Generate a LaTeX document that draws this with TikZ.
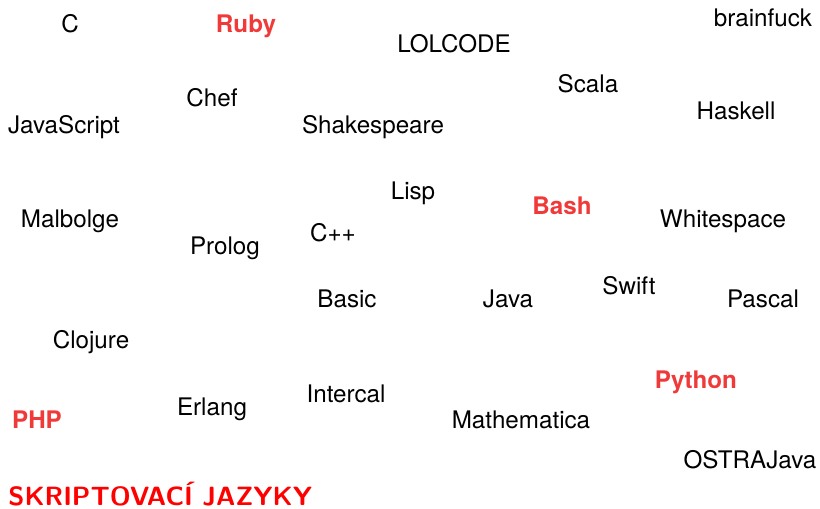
\documentclass[tikz,border=0pt]{standalone}
\usepackage{fontspec}
\setmainfont{TeX Gyre Heros}
\newfontfamily\titlefont{Latin Modern Sans}
\usetikzlibrary{positioning}
\definecolor{hotred}{RGB}{240,58,58}
\definecolor{titlered}{RGB}{255,0,0}

\tikzset{
  lang/.style={text height=1.5ex, text depth=.25ex, inner sep=0pt, font=\fontsize{12.1}{14}\selectfont},
  hot/.style={lang, text=hotred, font=\fontsize{12.1}{14}\selectfont\bfseries},
}

\begin{document}
\begin{tikzpicture}[x=0.5pt, y=-0.5pt]

\useasboundingbox (0,0) rectangle (820,509);

% top row
\node[lang] (c) at (70,26) {C};
\node[hot] (ruby) at (246,26) {Ruby};
\node[lang] (lolcode) at (454,46) {LOLCODE};
\node[lang] (brainfuck) at (763,20) {brainfuck};

\node[lang] (scala) at (588,86) {Scala};
\node[lang] (chef) at (212,100) {Chef};
\node[lang] (haskell) at (736,113) {Haskell};
\node[lang] (javascript) at (64,127) {JavaScript};
\node[lang] (shakespeare) at (373,127) {Shakespeare};

% middle
\node[lang] (lisp) at (413,193) {Lisp};
\node[hot] (bash) at (562,208) {Bash};
\node[lang] (malbolge) at (70,221) {Malbolge};
\node[lang] (whitespace) at (723,221) {Whitespace};
\node[lang] (cpp) at (333,235) {C++};
\node[lang] (prolog) at (225,248) {Prolog};

\node[lang] (swift) at (629,288) {Swift};
\node[lang] (basic) at (347,301) {Basic};
\node[lang] (java) at (508,301) {Java};
\node[lang] (pascal) at (763,301) {Pascal};
\node[lang] (clojure) at (91,342) {Clojure};

% bottom
\node[hot] (python) at (696,382) {Python};
\node[lang] (intercal) at (346,396) {Intercal};
\node[lang] (erlang) at (212,409) {Erlang};
\node[hot] (php) at (37,422) {PHP};
\node[lang] (mathematica) at (521,422) {Mathematica};
\node[lang] (ostrajava) at (750,462) {OSTRAJava};

% title
\node[anchor=base west, inner sep=0pt, text=titlered, font=\titlefont\fontsize{13.2}{16}\selectfont\bfseries] (title) at (8,505.5) {SKRIPTOVACÍ JAZYKY};

\end{tikzpicture}
\end{document}
